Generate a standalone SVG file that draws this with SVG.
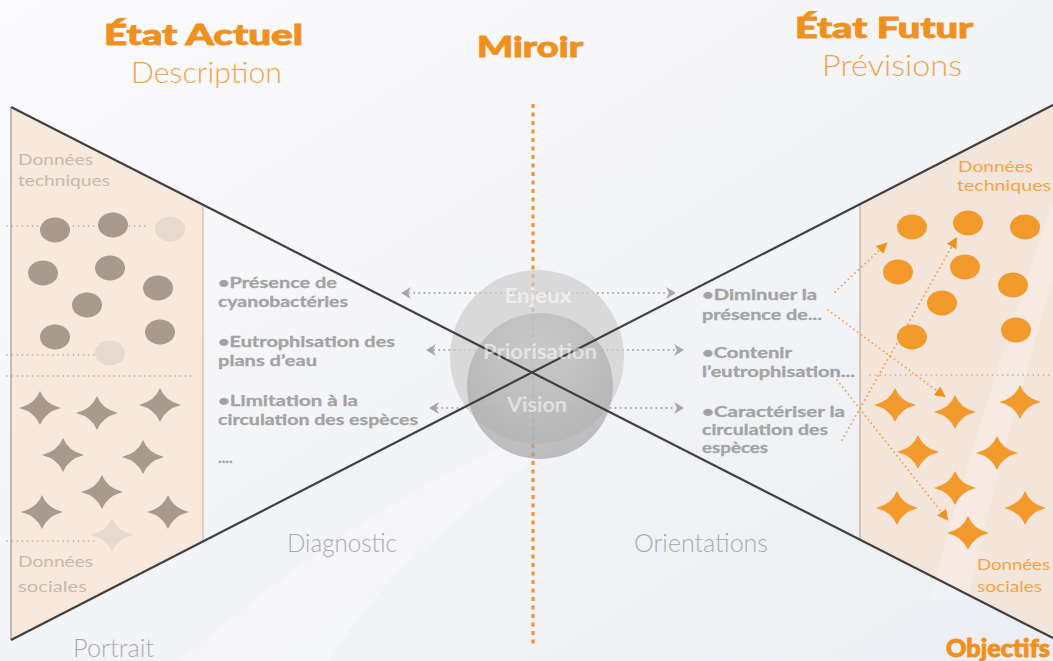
<svg xmlns="http://www.w3.org/2000/svg" width="1053" height="661" viewBox="0 0 1053 661">
<defs>
<linearGradient id="bg" x1="0" y1="0" x2="1" y2="1"><stop offset="0" stop-color="#fbfbfd"/><stop offset="0.5" stop-color="#f3f4f7"/><stop offset="1" stop-color="#eceef3"/></linearGradient>
<radialGradient id="c2" cx="0.5" cy="0.25" r="0.8"><stop offset="0" stop-color="#c2c2c2"/><stop offset="1" stop-color="#a2a2a2"/></radialGradient>
<path id="star" d="M-21,0 Q-5,-4 0,-17 Q5,-4 21,0 Q5,4 0,17 Q-5,4 -21,0Z"/>
<marker id="gh" viewBox="0 0 10 12" refX="2" refY="6" markerWidth="10" markerHeight="12" markerUnits="userSpaceOnUse" orient="auto-start-reverse"><path d="M0,0 L10,6 L0,12 L3,6Z" fill="#a8a8a8"/></marker>
<marker id="oh" viewBox="0 0 10 10" refX="8" refY="5" markerWidth="11" markerHeight="11" markerUnits="userSpaceOnUse" orient="auto"><path d="M0,0 L10,5 L0,10Z" fill="#f0901e"/></marker>
</defs>
<style>
.t{font-family:Lato,"Open Sans","Liberation Sans",sans-serif}
.h{font-weight:900;fill:#f0901e;stroke:#f0901e;stroke-width:0.9}
.sub{font-weight:300;fill:#f2a444}
.item{font-weight:700;fill:#a3a3a3;font-size:15.5px;stroke:#a3a3a3;stroke-width:0.3}
.lbl{font-weight:300;fill:#ababab;font-size:25px}
.dl{fill:#c9b8ad;font-size:16px}
.dr{fill:#f2a444;font-size:16px}
.ct{font-weight:700;fill:#ffffff;fill-opacity:.55;font-size:20px;text-anchor:middle}
.gc{fill:#a89a8f}
.gcf{fill:#e6d9cf}
.oc{fill:#f39a2c}
.gd{stroke:#a8a8a8;stroke-width:2;stroke-linecap:round;stroke-dasharray:0.1 5;fill:none}
.od{stroke:#f2a444;stroke-width:1.8;stroke-linecap:round;stroke-dasharray:0.1 4.5;fill:none}
.sep{stroke:#b5a599;stroke-width:1.6;stroke-linecap:round;stroke-dasharray:0.1 5}
.xl{stroke:#404040;stroke-width:2.2;fill:none}
</style>
<rect width="1053" height="661" fill="url(#bg)"/>
<path d="M180,661 C300,560 420,470 620,400 C500,480 380,570 330,661Z" fill="#ffffff" opacity="0.3"/>

<g id="panel-left">
<polygon points="11,107 203,205 203,541 11,640" fill="#f9e8dc"/>
<line x1="11" y1="107" x2="11" y2="640" stroke="#8a8480" stroke-width="1"/>
<line x1="203" y1="205" x2="203" y2="541" stroke="#d6c3b4" stroke-width="1.5"/>
</g>
<g id="panel-right">
<polygon points="860,204 1053,105 1053,638 860,541" fill="#f4e5db"/>
<path d="M930,600 C960,480 1010,330 1053,200 L1053,280 C1020,390 990,500 968,600Z" fill="#ffffff" opacity="0.2"/>
<line x1="860" y1="204" x2="860" y2="541" stroke="#c9b8ab" stroke-width="1.5"/>
</g>

<g id="miroir-line">
<line x1="533" y1="104" x2="533" y2="646" stroke="#f0901e" stroke-width="3" stroke-dasharray="4 4.5"/>
</g>

<g id="left-data">
<line class="sep" x1="7" y1="226" x2="147" y2="226"/>
<line class="sep" x1="7" y1="355" x2="95" y2="355"/>
<line class="sep" x1="7" y1="376" x2="195" y2="376"/>
<line class="sep" x1="7" y1="541" x2="95" y2="541"/>
<ellipse class="gc" cx="55" cy="230" rx="15" ry="12.5"/>
<ellipse class="gc" cx="113" cy="225" rx="15" ry="12.5"/>
<ellipse class="gcf" cx="170" cy="229" rx="15" ry="12.5"/>
<ellipse class="gc" cx="43" cy="273" rx="15" ry="12.5"/>
<ellipse class="gc" cx="110" cy="268" rx="15" ry="12.5"/>
<ellipse class="gc" cx="158" cy="288" rx="15" ry="12.5"/>
<ellipse class="gc" cx="87" cy="305" rx="15" ry="12.5"/>
<ellipse class="gc" cx="55" cy="337" rx="15" ry="12.5"/>
<ellipse class="gc" cx="160" cy="332" rx="15" ry="12.5"/>
<ellipse class="gcf" cx="110" cy="353" rx="15" ry="12.5"/>
<use href="#star" x="40" y="408" class="gc"/>
<use href="#star" x="97" y="413" class="gc"/>
<use href="#star" x="160" y="405" class="gc"/>
<use href="#star" x="63" y="455" class="gc"/>
<use href="#star" x="143" y="457" class="gc"/>
<use href="#star" x="102" y="492" class="gc"/>
<use href="#star" x="42" y="512" class="gc"/>
<use href="#star" x="168" y="512" class="gc"/>
<use href="#star" x="112" y="535" class="gcf"/>
<text class="t dl" x="18" y="165" textLength="75" lengthAdjust="spacingAndGlyphs">Données</text>
<text class="t dl" x="18" y="186" textLength="92" lengthAdjust="spacingAndGlyphs">techniques</text>
<text class="t dl" x="18" y="567" textLength="75" lengthAdjust="spacingAndGlyphs">Données</text>
<text class="t dl" x="18" y="592" textLength="69" lengthAdjust="spacingAndGlyphs">sociales</text>
</g>

<g id="right-data">
<line class="sep" x1="870" y1="375" x2="1050" y2="375"/>
<ellipse class="oc" cx="912" cy="227" rx="15" ry="12.5"/>
<ellipse class="oc" cx="968" cy="223" rx="15" ry="12.5"/>
<ellipse class="oc" cx="1025" cy="227" rx="15" ry="12.5"/>
<ellipse class="oc" cx="898" cy="272" rx="15" ry="12.5"/>
<ellipse class="oc" cx="965" cy="267" rx="15" ry="12.5"/>
<ellipse class="oc" cx="1013" cy="285" rx="15" ry="12.5"/>
<ellipse class="oc" cx="942" cy="303" rx="15" ry="12.5"/>
<ellipse class="oc" cx="912" cy="337" rx="15" ry="12.5"/>
<ellipse class="oc" cx="1016" cy="330" rx="15" ry="12.5"/>
<use href="#star" x="895" y="405" class="oc"/>
<use href="#star" x="955" y="412" class="oc"/>
<use href="#star" x="1020" y="402" class="oc"/>
<use href="#star" x="918" y="452" class="oc"/>
<use href="#star" x="997" y="453" class="oc"/>
<use href="#star" x="955" y="488" class="oc"/>
<use href="#star" x="897" y="508" class="oc"/>
<use href="#star" x="1025" y="508" class="oc"/>
<use href="#star" x="968" y="533" class="oc"/>
<text class="t dr" x="958" y="172" textLength="75" lengthAdjust="spacingAndGlyphs">Données</text>
<text class="t dr" x="957" y="191" textLength="94" lengthAdjust="spacingAndGlyphs">techniques</text>
<text class="t dr" x="977" y="570" textLength="73" lengthAdjust="spacingAndGlyphs">Données</text>
<text class="t dr" x="977" y="592" textLength="65" lengthAdjust="spacingAndGlyphs">sociales</text>
</g>

<g id="connectors">
<line class="gd" x1="409" y1="293" x2="668" y2="293" marker-start="url(#gh)" marker-end="url(#gh)"/>
<line class="gd" x1="434" y1="350" x2="676" y2="350" marker-start="url(#gh)" marker-end="url(#gh)"/>
<line class="gd" x1="437" y1="408" x2="676" y2="408" marker-start="url(#gh)" marker-end="url(#gh)"/>
<line class="od" x1="835" y1="292" x2="886" y2="244" marker-end="url(#oh)"/>
<line class="od" x1="828" y1="310" x2="944" y2="396" marker-end="url(#oh)"/>
<line class="od" x1="842" y1="440" x2="956" y2="239" marker-end="url(#oh)"/>
<line class="od" x1="837" y1="380" x2="947" y2="519" marker-end="url(#oh)"/>
</g>

<g id="center">
<circle cx="537" cy="357" r="87" fill="#cfcfcf" opacity="0.72"/>
<circle cx="540" cy="386" r="73" fill="url(#c2)" opacity="0.7"/>
</g>

<g id="cross">
<line class="xl" x1="11" y1="107" x2="1053" y2="638"/>
<line class="xl" x1="11" y1="640" x2="1053" y2="105"/>
</g>

<g id="center-labels">
<text class="t ct" x="538" y="303" textLength="67" lengthAdjust="spacingAndGlyphs">Enjeux</text>
<text class="t ct" x="540" y="359" textLength="114" lengthAdjust="spacingAndGlyphs">Priorisation</text>
<text class="t ct" x="537" y="412" textLength="60" lengthAdjust="spacingAndGlyphs">Vision</text>
</g>

<g id="title-left">
<text class="t h" x="104" y="45" font-size="29" textLength="199" lengthAdjust="spacingAndGlyphs">État Actuel</text>
<text class="t sub" x="131" y="83" font-size="29" textLength="151" lengthAdjust="spacingAndGlyphs">Description</text>
</g>
<g id="title-center">
<text class="t h" x="477" y="57" font-size="29" textLength="106" lengthAdjust="spacingAndGlyphs">Miroir</text>
</g>
<g id="title-right">
<text class="t h" x="795" y="38" font-size="29" textLength="178" lengthAdjust="spacingAndGlyphs">État Futur</text>
<text class="t sub" x="822" y="76" font-size="29" textLength="140" lengthAdjust="spacingAndGlyphs">Prévisions</text>
</g>

<g id="diagnostic-items">
<text class="t item" x="218" y="288" textLength="119" lengthAdjust="spacingAndGlyphs">•Présence de</text>
<text class="t item" x="218" y="307" textLength="130" lengthAdjust="spacingAndGlyphs">cyanobactéries</text>
<text class="t item" x="218" y="347" textLength="177" lengthAdjust="spacingAndGlyphs">•Eutrophisation des</text>
<text class="t item" x="218" y="366" textLength="99" lengthAdjust="spacingAndGlyphs">plans d’eau</text>
<text class="t item" x="218" y="406" textLength="140" lengthAdjust="spacingAndGlyphs">•Limitation à la</text>
<text class="t item" x="218" y="425" textLength="200" lengthAdjust="spacingAndGlyphs">circulation des espèces</text>
<text class="t item" x="218" y="463" font-size="11">....</text>
</g>
<g id="orientation-items">
<text class="t item" x="702" y="300" textLength="115" lengthAdjust="spacingAndGlyphs">•Diminuer la</text>
<text class="t item" x="702" y="320" textLength="120" lengthAdjust="spacingAndGlyphs">présence de...</text>
<text class="t item" x="702" y="358" textLength="90" lengthAdjust="spacingAndGlyphs">•Contenir</text>
<text class="t item" x="702" y="377" textLength="153" lengthAdjust="spacingAndGlyphs">l’eutrophisation...</text>
<text class="t item" x="702" y="417" textLength="143" lengthAdjust="spacingAndGlyphs">•Caractériser la</text>
<text class="t item" x="702" y="435" textLength="126" lengthAdjust="spacingAndGlyphs">circulation des</text>
<text class="t item" x="702" y="453" textLength="66" lengthAdjust="spacingAndGlyphs">espèces</text>
</g>

<g id="labels">
<text class="t lbl" x="287" y="552" textLength="110" lengthAdjust="spacingAndGlyphs">Diagnostic</text>
<text class="t lbl" x="634" y="552" textLength="134" lengthAdjust="spacingAndGlyphs">Orientations</text>
<text class="t lbl" x="73" y="657" textLength="81" lengthAdjust="spacingAndGlyphs">Portrait</text>
<text class="t h" x="946" y="657" font-size="24" textLength="104" lengthAdjust="spacingAndGlyphs">Objectifs</text>
</g>
</svg>
